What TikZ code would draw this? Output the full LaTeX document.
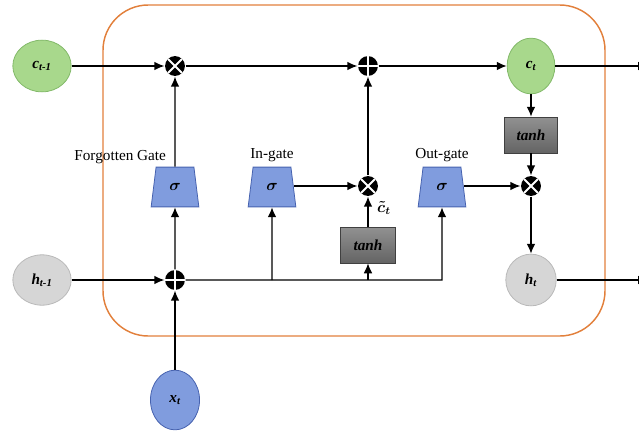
\documentclass[tikz,border=0pt]{standalone}
\usepackage{fontspec}
\setmainfont{Liberation Serif}
\usepackage{amsmath}
\usepackage{amssymb}
\usepackage{tikz}
\usetikzlibrary{shapes.geometric, arrows.meta}
\usetikzlibrary{positioning}

\definecolor{cellorange}{RGB}{226,128,60}
\definecolor{greenfill}{RGB}{168,216,140}
\definecolor{greenline}{RGB}{130,185,105}
\definecolor{greyfill}{RGB}{214,214,214}
\definecolor{greyline}{RGB}{185,185,185}
\definecolor{bluefill}{RGB}{128,156,222}
\definecolor{blueline}{RGB}{70,98,175}
\definecolor{tanhtop}{RGB}{145,145,145}
\definecolor{tanhbot}{RGB}{100,100,100}

\begin{document}
\begin{tikzpicture}[x=0.0265cm, y=-0.0265cm,
      font=\fontsize{11.5}{13}\selectfont,
      line width=1pt, >={Latex[length=7.5pt,width=6.5pt]},
      cstate/.style = {ellipse, draw=greenline, fill=greenfill, line width=0.6pt,
        inner sep=0pt, font=\fontsize{11.5}{12}\selectfont\bfseries\itshape},
      hstate/.style = {ellipse, draw=greyline, fill=greyfill, line width=0.6pt,
        inner sep=0pt, font=\fontsize{11.5}{12}\selectfont\bfseries\itshape},
      xstate/.style = {ellipse, draw=blueline, fill=bluefill, line width=0.6pt,
        inner sep=0pt, font=\fontsize{11.5}{12}\selectfont\bfseries\itshape},
      sigbox/.style = {trapezium, trapezium stretches=true,
        trapezium left angle=78, trapezium right angle=78,
        draw=blueline, fill=bluefill, line width=0.6pt,
        minimum width=36pt, minimum height=30pt, inner sep=0pt,
        font=\fontsize{13}{14}\selectfont\bfseries},
      tanhbox/.style = {rectangle, draw=black!75, line width=0.6pt,
        top color=tanhtop, bottom color=tanhbot,
        minimum width=42pt, minimum height=27pt,
        font=\fontsize{11.5}{12}\selectfont\bfseries\itshape},
      mult/.style = {circle, fill=black, minimum size=15pt, inner sep=0pt,
        path picture={\draw[white, line width=1.4pt]
          (path picture bounding box.north west) -- (path picture bounding box.south east)
          (path picture bounding box.south west) -- (path picture bounding box.north east);}},
      plus/.style = {circle, fill=black, minimum size=15pt, inner sep=0pt,
        path picture={\draw[white, line width=1.4pt]
          (path picture bounding box.north) -- (path picture bounding box.south)
          (path picture bounding box.west) -- (path picture bounding box.east);}},
      gatelabel/.style = {inner sep=1pt}]

  \clip (0,0) rectangle (639,437);

  % cell border
  \draw[cellorange, line width=1.1pt, rounded corners=1.2cm] (103,5) rectangle (605,336);

  % states
  \node[cstate, minimum width=44pt, minimum height=39pt] (ct1) at (42,66) {c\textsubscript{t-1}};
  \node[hstate, minimum width=44pt, minimum height=38pt] (ht1) at (42,280) {h\textsubscript{t-1}};
  \node[xstate, minimum width=37pt, minimum height=45pt] (xt) at (175,400) {x\textsubscript{t}};
  \node[cstate, minimum width=36pt, minimum height=42pt] (ct) at (531,66) {c\textsubscript{t}};
  \node[hstate, minimum width=38pt, minimum height=39pt] (ht) at (531,280) {h\textsubscript{t}};

  % point-wise operations
  \node[mult] (fmul) at (175,66) {};
  \node[plus] (cplus) at (368,66) {};
  \node[mult] (imul) at (368,186) {};
  \node[mult] (omul) at (531,186) {};
  \node[plus] (hplus) at (175,280) {};

  % gates
  \node[sigbox] (fsig) at (175,187) {$\boldsymbol{\sigma}$};
  \node[sigbox] (isig) at (272,187) {$\boldsymbol{\sigma}$};
  \node[sigbox] (osig) at (442,187) {$\boldsymbol{\sigma}$};
  \node[tanhbox] (tanhc) at (368,245) {tanh};
  \node[tanhbox, minimum width=40pt] (tanhh) at (531,135) {tanh};

  \node[gatelabel, anchor=south east] (flab) at (168,166) {Forgotten Gate};
  \node[gatelabel, above=2pt of isig] (ilab) {In-gate};
  \node[gatelabel, above=2pt of osig] (olab) {Out-gate};
  \node[inner sep=0pt] (ctil) at (384,208) {$\boldsymbol{\tilde{c}_t}$};

  % branch points
  \coordinate (bi) at (isig |- hplus);
  \coordinate (bt) at (tanhc |- hplus);
  \coordinate (bo) at (osig |- hplus);
  \coordinate (cout) at (648,66);
  \coordinate (hout) at (648,280);

  % connectors
  \draw[->] (ct1) -- (fmul);
  \draw[->] (fmul) -- (cplus);
  \draw[->] (cplus) -- (ct);
  \draw[->] (ct) -- (cout);
  \draw[->] (ct) -- (tanhh);
  \draw[->] (tanhh) -- (omul);
  \draw[->] (omul) -- (ht);
  \draw[->] (ht) -- (hout);
  \draw[->] (fsig) -- (fmul);
  \draw[->] (ht1) -- (hplus);
  \draw[->] (xt) -- (hplus);
  \draw[->] (hplus) -- (fsig.south);
  \draw[->] (hplus) -- (bo) -- (osig.south);
  \draw[->] (bi) -- (isig.south);
  \draw[->] (bt) -- (tanhc.south);
  \draw[->] (isig.east |- imul) -- (imul);
  \draw[->] (tanhc) -- (imul);
  \draw[->] (imul) -- (cplus);
  \draw[->] (osig.east |- omul) -- (omul);
\end{tikzpicture}
\end{document}
